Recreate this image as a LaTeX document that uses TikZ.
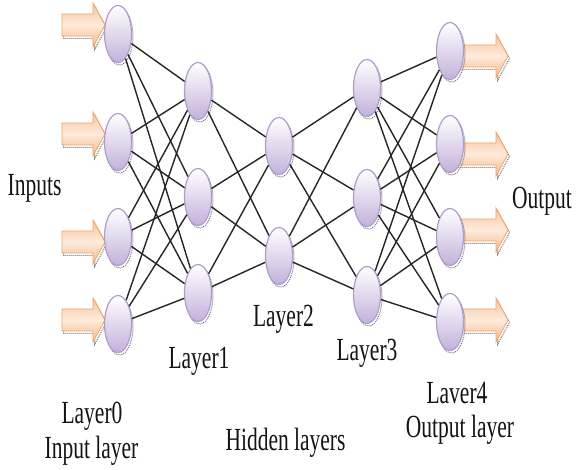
\documentclass[tikz,border=0pt]{standalone}
\usepackage{fontspec}
\setmainfont{Liberation Serif}
\usepackage{graphicx}
\usetikzlibrary{shapes.geometric,shadows}
\definecolor{nodeline}{HTML}{B09CCC}
\definecolor{nodelow}{HTML}{C3B1DA}
\definecolor{arrowline}{HTML}{F0A468}
\definecolor{arrowtop}{HTML}{F8C49C}
\definecolor{arrowmid}{HTML}{FDEBDC}
\definecolor{arrowlow}{HTML}{F6B78A}
\definecolor{textink}{HTML}{141414}
% the labels are set tall and narrow
\newcommand\tallword[1]{\scalebox{1}[1.5]{#1}}
\begin{document}
\begin{tikzpicture}[x=1pt,y=-1pt,
  neuron/.style={ellipse, minimum width=27pt, minimum height=57pt, inner sep=0pt,
    draw=nodeline, line width=1.2pt, top color=white, bottom color=nodelow,
    drop shadow={shadow xshift=1.5pt, shadow yshift=-2.5pt, fill=none,
      draw=black!55, densely dotted, line width=1pt, opacity=1}},
  link/.style={draw=black!85, line width=1.4pt},
  caption/.style={anchor=base, inner sep=0pt, text=textink,
    font=\fontsize{21.5}{24}\selectfont},
  pics/fatarrow/.style={code={
    % dotted drop shadow, then the shaded arrow body
    \path[draw=black!55, densely dotted, line width=1pt, shift={(1.5,2.5)}]
      (0,-11) -- (#1-12,-11) -- (#1-12,-22) -- (#1,0) -- (#1-12,22) -- (#1-12,11) -- (0,11) -- cycle;
    \path[draw=arrowline, line width=0.8pt, top color=arrowtop, bottom color=arrowlow,
      middle color=arrowmid]
      (0,-11) -- (#1-12,-11) -- (#1-12,-22) -- (#1,0) -- (#1-12,22) -- (#1-12,11) -- (0,11) -- cycle;
  }}]
\fill[white] (0,0) rectangle (576,470);
\useasboundingbox (0,0) rectangle (576,470);

% input arrows
\pic at (62,25) {fatarrow=43};
\pic at (62,134) {fatarrow=43};
\pic at (62,242) {fatarrow=43};
\pic at (62,320) {fatarrow=43};
% output arrows
\pic at (455,56) {fatarrow=53};
\pic at (455,154) {fatarrow=53};
\pic at (455,230) {fatarrow=53};
\pic at (455,320) {fatarrow=53};

% layer 0
\node[neuron] (a1) at (118,34) {};
\node[neuron] (a2) at (118,142) {};
\node[neuron] (a3) at (118,237) {};
\node[neuron] (a4) at (118,324) {};
% layer 1
\node[neuron] (b1) at (198,91) {};
\node[neuron] (b2) at (198,197) {};
\node[neuron] (b3) at (198,293) {};
% layer 2
\node[neuron] (c1) at (279,146) {};
\node[neuron] (c2) at (279,256) {};
% layer 3
\node[neuron] (d1) at (367,88) {};
\node[neuron] (d2) at (367,198) {};
\node[neuron] (d3) at (367,295) {};
% layer 4
\node[neuron] (e1) at (450,51) {};
\node[neuron] (e2) at (450,144) {};
\node[neuron] (e3) at (450,237) {};
\node[neuron] (e4) at (450,322) {};

% full connections between neighbouring layers
\foreach \s in {a1,a2,a3,a4} \foreach \t in {b1,b2,b3} \draw[link] (\s) -- (\t);
\foreach \s in {b1,b2,b3} \foreach \t in {c1,c2} \draw[link] (\s) -- (\t);
\foreach \s in {c1,c2} \foreach \t in {d1,d2,d3} \draw[link] (\s) -- (\t);
\foreach \s in {d1,d2,d3} \foreach \t in {e1,e2,e3,e4} \draw[link] (\s) -- (\t);

% labels
\node[caption] (inputs) at (34.5,196) {\tallword{Inputs}};
\node[caption] (output) at (542,209) {\tallword{Output}};
\node[caption] (l1) at (199,369) {\tallword{Layer1}};
\node[caption] (l2) at (283.5,327) {\tallword{Layer2}};
\node[caption] (l3) at (367,361) {\tallword{Layer3}};
\node[caption] (l4) at (457,404) {\tallword{Laver4}};
\node[caption] (outlayer) at (460,437) {\tallword{Output layer}};
\node[caption] (l0) at (92,424) {\tallword{Layer0}};
\node[caption] (inlayer) at (91.5,458) {\tallword{Input layer}};
\node[caption] (hidden) at (285.5,450) {\tallword{Hidden layers}};
\end{tikzpicture}
\end{document}
